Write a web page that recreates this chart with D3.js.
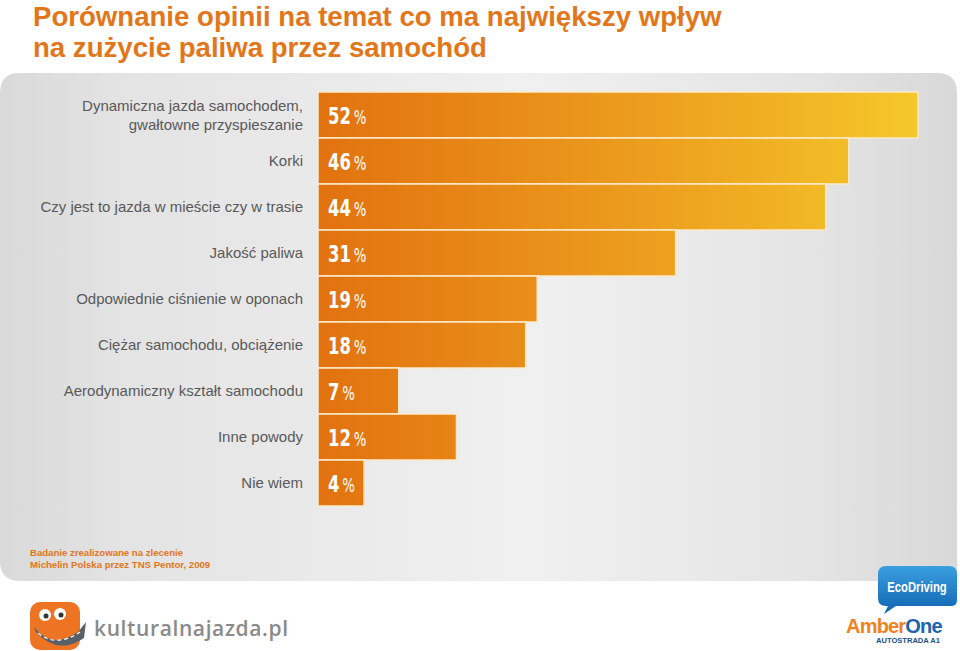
<!DOCTYPE html>
<html><head><meta charset="utf-8">
<script src="https://cdn.jsdelivr.net/npm/d3@7"></script>
<style>
html,body{margin:0;padding:0;background:#fff;}
svg{display:block;}
</style></head>
<body>
<svg id="chart" width="960" height="651"></svg>
<script>
const categories = [
  ["Dynamiczna jazda samochodem,", "gwałtowne przyspieszanie"],
  ["Korki"],
  ["Czy jest to jazda w mieście czy w trasie"],
  ["Jakość paliwa"],
  ["Odpowiednie ciśnienie w oponach"],
  ["Ciężar samochodu, obciążenie"],
  ["Aerodynamiczny kształt samochodu"],
  ["Inne powody"],
  ["Nie wiem"]
];
const values = [52, 46, 44, 31, 19, 18, 7, 12, 4];
const titleLines = ["Porównanie opinii na temat co ma największy wpływ", "na zużycie paliwa przez samochód"];
const noteLines = ["Badanie zrealizowane na zlecenie", "Michelin Polska przez TNS Pentor, 2009"];

const svg = d3.select("#chart");
const defs = svg.append("defs");

// panel gradient
const pg = defs.append("linearGradient").attr("id","panelGrad").attr("x1","0").attr("x2","1").attr("y1","0").attr("y2","0");
[[0,"#d9d9d9"],[0.12,"#e3e3e3"],[0.55,"#f0f0f0"],[0.85,"#e4e4e4"],[1,"#d8d8d8"]].forEach(([o,c])=>pg.append("stop").attr("offset",o).attr("stop-color",c));

const x0 = 318, x1 = 918;
const x = d3.scaleLinear().domain([0, 52]).range([x0, x1]);
const y = d3.scaleBand().domain(d3.range(values.length)).range([92, 506]).paddingInner(0).paddingOuter(0);

const bg = defs.append("linearGradient").attr("id","barGrad").attr("gradientUnits","userSpaceOnUse")
  .attr("x1",x0).attr("x2",x1).attr("y1",0).attr("y2",0);
[[0,"#e2720f"],[0.45,"#ea961c"],[0.75,"#f0b023"],[1,"#f5c82b"]].forEach(([o,c])=>bg.append("stop").attr("offset",o).attr("stop-color",c));

// panel
const pL=0, pT=73, pR=957, pB=581, r=20;
svg.append("path")
  .attr("d", `M${pL},${pT+r} Q${pL},${pT} ${pL+r},${pT} L${pR-r},${pT} Q${pR},${pT} ${pR},${pT+r} L${pR},${pB} L${pL+r},${pB} Q${pL},${pB} ${pL},${pB-r} Z`)
  .attr("fill","url(#panelGrad)");

// title
svg.append("text")
  .attr("font-family","'Liberation Sans', Arial, sans-serif").attr("font-weight","bold").attr("font-size",27.6)
  .attr("fill","#e2761a")
  .selectAll("tspan").data(titleLines).join("tspan")
  .attr("x",33).attr("y",(d,i)=>25.5+i*31.5).text(d=>d);

// bars
svg.append("g").selectAll("rect").data(values).join("rect")
  .attr("x", x(0))
  .attr("y", (d,i)=>y(i))
  .attr("width", d=>x(d)-x(0))
  .attr("height", y.bandwidth())
  .attr("fill","url(#barGrad)")
  .attr("stroke","#fbeacb")
  .attr("stroke-width",1.5);

// value labels (condensed via horizontal scale)
const vl = svg.append("g").selectAll("text").data(values).join("text")
  .attr("transform", (d,i)=>`translate(${x(0)+10},${y(i)+y.bandwidth()/2+8.5}) scale(0.7,1)`)
  .attr("fill","#ffffff")
  .attr("font-family","'DejaVu Sans', sans-serif");
vl.append("tspan").attr("font-size",23.5).attr("font-weight","bold").text(d=>d);
vl.append("tspan").attr("dx",4).attr("font-size",19).text("%");

// category labels
const cl = svg.append("g").selectAll("text").data(categories).join("text")
  .attr("text-anchor","end")
  .attr("font-family","'Liberation Sans', Arial, sans-serif")
  .attr("font-size",15)
  .attr("fill","#595959")
  .attr("y",(d,i)=>y(i)+y.bandwidth()/2 + 5 - (d.length-1)*9.5);
cl.selectAll("tspan").data(d=>d).join("tspan")
  .attr("x",303).attr("dy",(d,i)=>i===0?0:19).text(d=>d);

// note
svg.append("text").attr("font-family","'Liberation Sans', Arial, sans-serif").attr("font-weight","bold")
  .attr("font-size",9.6).attr("fill","#e2761a")
  .selectAll("tspan").data(noteLines).join("tspan")
  .attr("x",30).attr("y",(d,i)=>556+i*12).text(d=>d);

// kulturalnajazda logo
const lg = svg.append("g");
lg.append("rect").attr("x",30).attr("y",602).attr("width",50).attr("height",48).attr("rx",10).attr("fill","#ec7423");
lg.append("circle").attr("cx",45).attr("cy",615).attr("r",6).attr("fill","#fff");
lg.append("circle").attr("cx",60).attr("cy",614).attr("r",6).attr("fill","#fff");
lg.append("circle").attr("cx",46).attr("cy",616).attr("r",2.5).attr("fill","#333");
lg.append("circle").attr("cx",61).attr("cy",615).attr("r",2.5).attr("fill","#333");
lg.append("path").attr("d","M34,627 Q52,650 78,632 L86,622 L84,638 Q58,656 36,632 Z").attr("fill","#5a6068");
lg.append("path").attr("d","M38,633 Q56,648 80,632").attr("fill","none").attr("stroke","#fff").attr("stroke-width",1.2).attr("stroke-dasharray","4,3");
svg.append("text").attr("x",94).attr("y",636)
  .attr("font-family","'Open Sans', 'DejaVu Sans', sans-serif").attr("font-weight",600).attr("font-size",21)
  .attr("textLength",194).attr("lengthAdjust","spacing")
  .attr("fill","#8a8a8a").text("kulturalnajazda.pl");

// EcoDriving badge
const eg = defs.append("linearGradient").attr("id","ecoGrad").attr("x1",0).attr("x2",0).attr("y1",0).attr("y2",1);
[[0,"#3aa0e0"],[1,"#0f63b0"]].forEach(([o,c])=>eg.append("stop").attr("offset",o).attr("stop-color",c));
svg.append("path").attr("d","M886,566 L949,566 Q957,566 957,574 L957,600 Q957,606 951,606 L896,606 L884,614 L888,606 L886,606 Q878,606 878,598 L878,574 Q878,566 886,566 Z")
  .attr("fill","url(#ecoGrad)");
svg.append("text").attr("transform","translate(917,592) scale(0.75,1)").attr("text-anchor","middle")
  .attr("font-family","'Liberation Sans', Arial, sans-serif")
  .attr("font-weight","bold").attr("font-size",15).attr("fill","#fff")
  .text("EcoDriving");

// AmberOne
const at = svg.append("text").attr("x",846).attr("y",633)
  .attr("font-family","'Liberation Sans', Arial, sans-serif").attr("font-weight","bold").attr("font-size",20).attr("letter-spacing",-0.8);
at.append("tspan").attr("fill","#f0821e").text("Amber");
at.append("tspan").attr("fill","#1b64ae").text("One");
svg.append("text").attr("x",876).attr("y",643)
  .attr("font-family","'Liberation Sans', Arial, sans-serif").attr("font-weight","bold").attr("font-size",8)
  .attr("textLength",64).attr("lengthAdjust","spacingAndGlyphs")
  .attr("fill","#1b4f8a").text("AUTOSTRADA A1");
</script>
</body></html>
